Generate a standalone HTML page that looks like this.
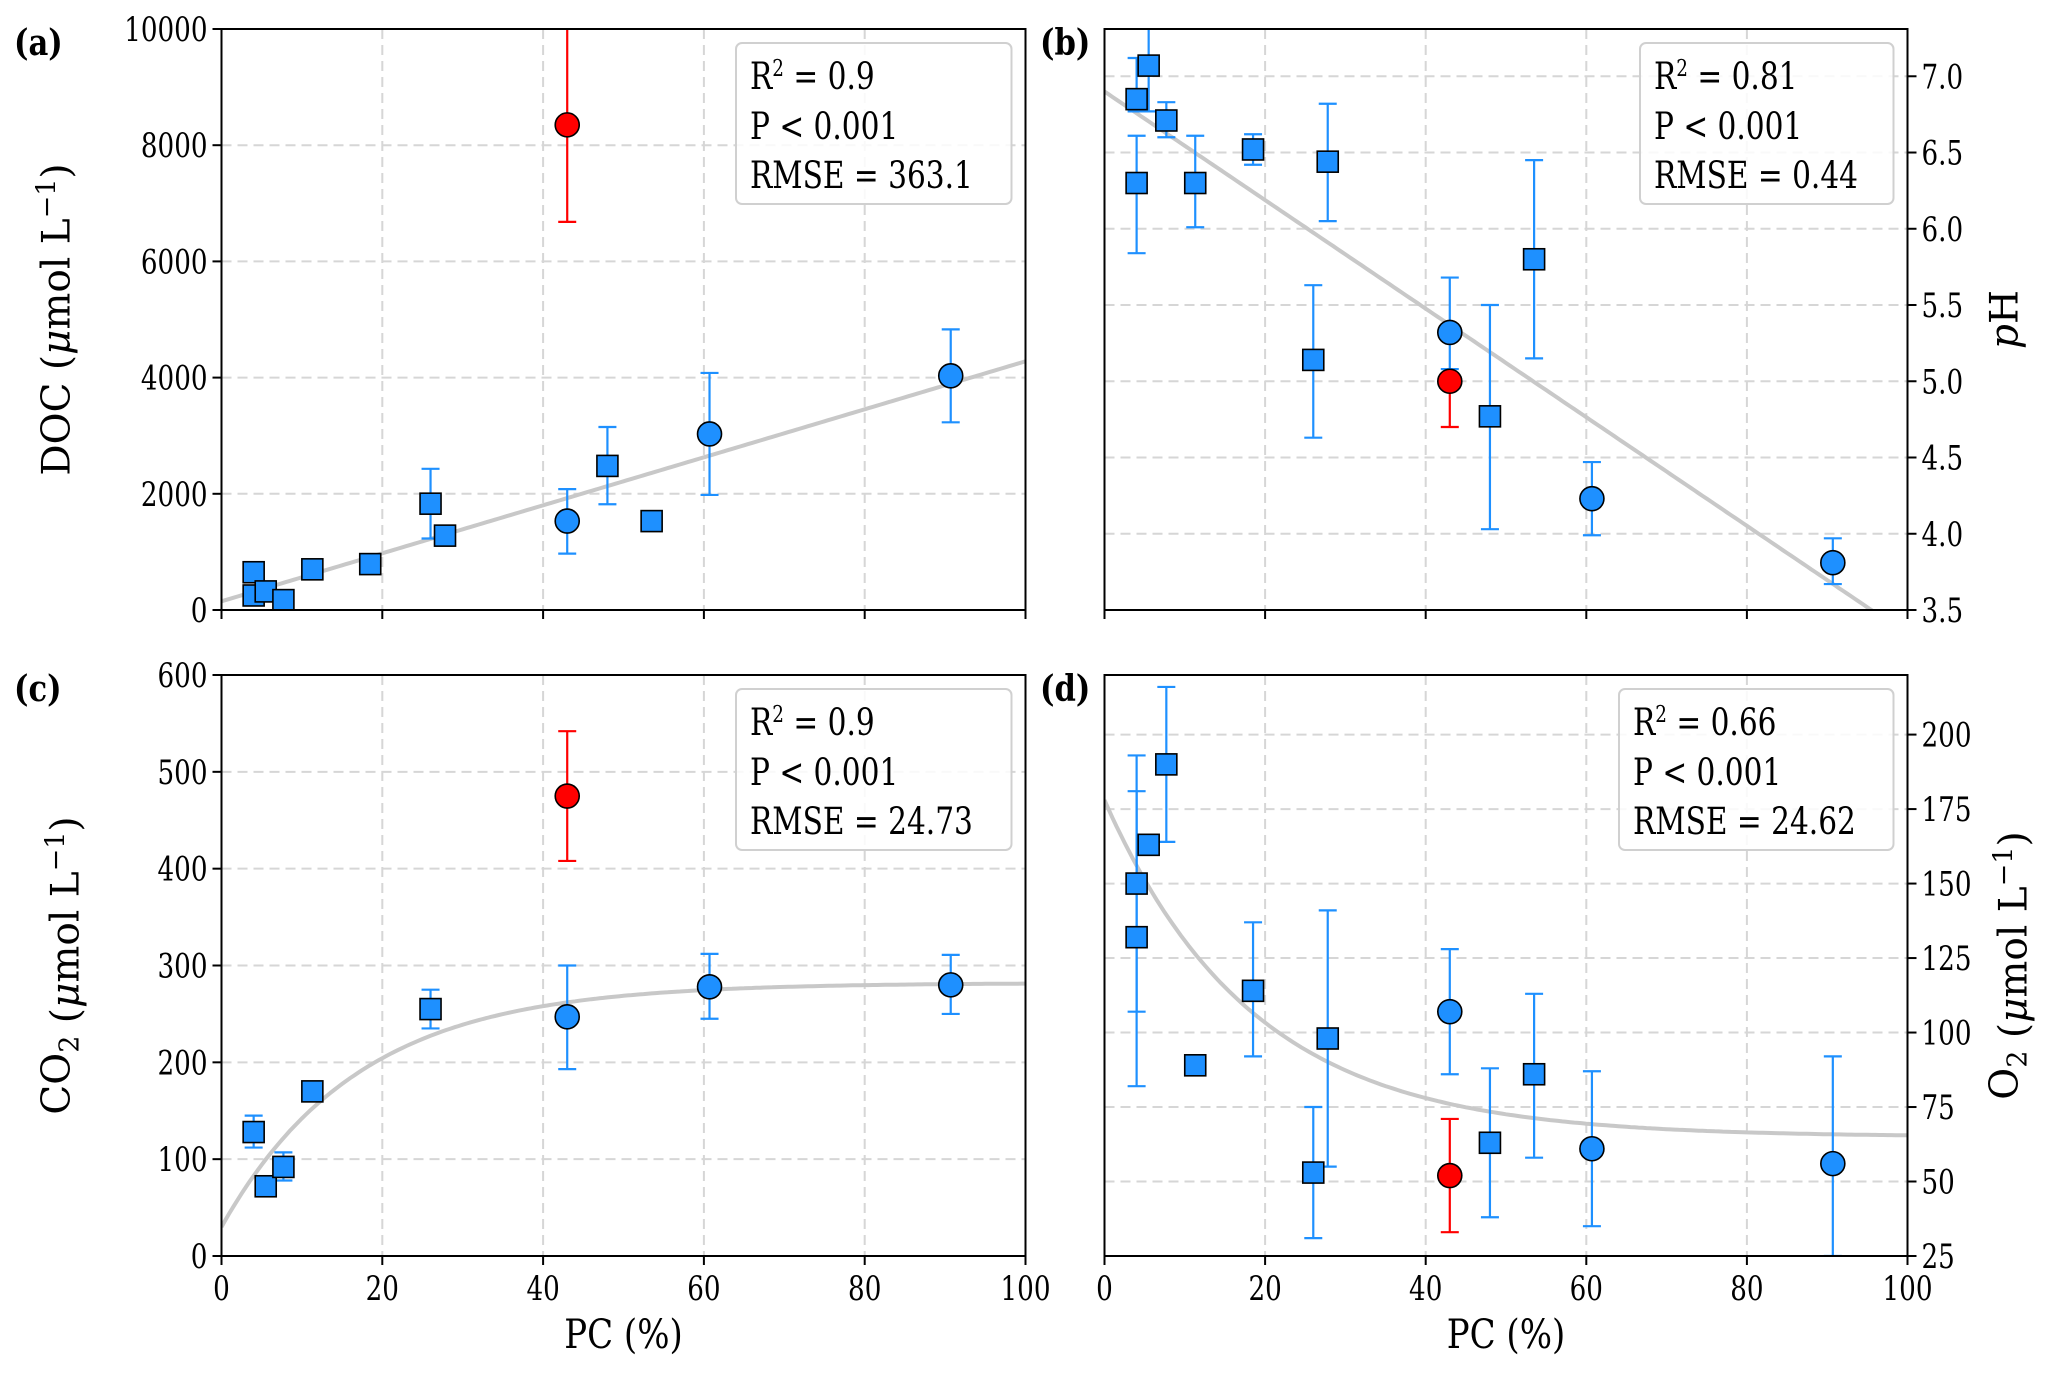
<!DOCTYPE html>
<html><head><meta charset="utf-8"><style>
html,body{margin:0;padding:0;background:#fff;}
svg{display:block;font-family:"DejaVu Serif","Liberation Serif",serif;}
.tick{font-size:34px;fill:#000;}
.lab{font-size:39px;fill:#000;}
.xl{font-size:40px;fill:#000;}
.leg{font-size:37px;fill:#000;}
.pl{font-size:36px;font-weight:bold;fill:#000;}
</style></head><body>
<svg id="chart" width="2067" height="1378" viewBox="0 0 2067 1378"></svg>
<script>
const pc = [4, 4, 5.5, 7.7, 11.3, 18.5, 26, 27.8, 43, 48, 53.5, 60.7, 90.7, 43];
const shapes = ['s','s','s','s','s','s','s','s','o','s','s','o','o','r'];
const docVal = [650, 250, 320, 170, 700, 790, 1830, 1280, 1530, 2480, 1530, 3030, 4030, 8350];
const docLo = [560, 120, 230, 90, 610, 700, 1230, 1150, 970, 1820, 1420, 1980, 3230, 6680];
const docHi = [740, 380, 410, 250, 800, 900, 2430, 1420, 2080, 3150, 1640, 4080, 4830, 10500];
const phVal = [6.85, 6.3, 7.07, 6.71, 6.3, 6.52, 5.14, 6.44, 5.32, 4.77, 5.8, 4.23, 3.81, 5.0];
const phLo = [6.77, 5.84, 6.77, 6.6, 6.01, 6.42, 4.63, 6.05, 5.08, 4.03, 5.15, 3.99, 3.67, 4.7];
const phHi = [7.12, 6.61, 7.4, 6.83, 6.61, 6.62, 5.63, 6.82, 5.68, 5.5, 6.45, 4.47, 3.97, 5.0];
const co2Val = [128, null, 72, 92, 170, null, 255, null, 247, null, null, 278, 280, 475];
const co2Lo = [112, null, 62, 78, 165, null, 235, null, 193, null, null, 245, 250, 408];
const co2Hi = [145, null, 82, 107, 175, null, 275, null, 300, null, null, 312, 311, 542];
const o2Val = [132, 150, 163, 190, 89, 114, 53, 98, 107, 63, 86, 61, 56, 52];
const o2Lo = [82, 107, 160, 164, 86, 92, 31, 55, 86, 38, 58, 35, 25, 33];
const o2Hi = [181, 193, 166, 216, 92, 137, 75, 141, 128, 88, 113, 87, 92, 71];
const xTicks = [0, 20, 40, 60, 80, 100];
const docTicks = [0, 2000, 4000, 6000, 8000, 10000];
const phTicks = [3.5, 4.0, 4.5, 5.0, 5.5, 6.0, 6.5, 7.0];
const co2Ticks = [0, 100, 200, 300, 400, 500, 600];
const o2Ticks = [25, 50, 75, 100, 125, 150, 175, 200];
const legA = ['0.9', '< 0.001', '363.1'];
const legB = ['0.81', '< 0.001', '0.44'];
const legC = ['0.9', '< 0.001', '24.73'];
const legD = ['0.66', '< 0.001', '24.62'];

const NS = 'http://www.w3.org/2000/svg';
const svg = document.getElementById('chart');
function mk(tag, attrs, parent, text) {
  const e = document.createElementNS(NS, tag);
  for (const k in attrs) e.setAttribute(k, attrs[k]);
  if (text !== undefined) e.textContent = text;
  (parent || svg).appendChild(e);
  return e;
}
const BLUE = '#1e90ff';

function panel(cfg) {
  const g = mk('g', {});
  
  
  const {x0, x1, y0, y1, ymin, ymax} = cfg;
  const sx = v => x0 + (v - 0) / 100 * (x1 - x0);
  const sy = v => y1 - (v - ymin) / (ymax - ymin) * (y1 - y0);
  const clip = 'clip-' + cfg.name;
  const cp = mk('clipPath', {id: clip}, g);
  mk('rect', {x: x0, y: y0, width: x1 - x0, height: y1 - y0}, cp);
  xTicks.forEach(t => {
    const l = mk('line', {x1: sx(t), x2: sx(t), y1: y0, y2: y1, stroke: '#d6d6d6', 'stroke-width': 2, 'stroke-dasharray': '10,6'}, g);
    
    
  });
  cfg.yTicks.forEach(t => {
    const l = mk('line', {x1: x0, x2: x1, y1: sy(t), y2: sy(t), stroke: '#d6d6d6', 'stroke-width': 2, 'stroke-dasharray': '10,6'}, g);
    
    
  });
  const pts = [];
  for (let i = 0; i <= 200; i++) { const x = i / 2; pts.push(sx(x).toFixed(1) + ',' + sy(cfg.fit(x)).toFixed(1)); }
  const fl = mk('polyline', {points: pts.join(' '), fill: 'none', stroke: '#c8c8c8', 'stroke-width': 4, 'clip-path': 'url(#' + clip + ')'}, g);
  
  
  const dg = mk('g', {'clip-path': 'url(#' + clip + ')'}, g);
  cfg.val.forEach((v, i) => {
    if (v === null) return;
    const col = shapes[i] === 'r' ? '#ff0000' : BLUE;
    const x = sx(pc[i]);
    const eb = mk('g', {stroke: col, 'stroke-width': 2.2}, dg);
    
    
    mk('line', {x1: x, x2: x, y1: sy(cfg.lo[i]), y2: sy(cfg.hi[i])}, eb);
    mk('line', {x1: x - 9, x2: x + 9, y1: sy(cfg.lo[i]), y2: sy(cfg.lo[i])}, eb);
    mk('line', {x1: x - 9, x2: x + 9, y1: sy(cfg.hi[i]), y2: sy(cfg.hi[i])}, eb);
  });
  cfg.val.forEach((v, i) => {
    if (v === null) return;
    const x = sx(pc[i]), y = sy(v);
    let m;
    if (shapes[i] === 's') {
      m = mk('rect', {x: x - 10.5, y: y - 10.5, width: 21, height: 21, fill: BLUE, stroke: '#000', 'stroke-width': 1.6}, dg);
    } else {
      m = mk('circle', {cx: x, cy: y, r: 12, fill: shapes[i] === 'r' ? '#ff0000' : BLUE, stroke: '#000', 'stroke-width': 1.6}, dg);
    }
    
    
  });
  const fr = mk('rect', {x: x0, y: y0, width: x1 - x0, height: y1 - y0, fill: 'none', stroke: '#000', 'stroke-width': 2}, g);
  
  
  xTicks.forEach(t => {
    mk('line', {x1: sx(t), x2: sx(t), y1: y1, y2: y1 + 9, stroke: '#000', 'stroke-width': 2}, g);
    if (cfg.xLabels) {
      const tl = mk('text', {x: sx(t), y: y1 + 44, 'text-anchor': 'middle', class: 'tick'}, g, String(t));
      
      
    }
  });
  cfg.yTicks.forEach(t => {
    const right = cfg.right;
    const xa = right ? x1 : x0;
    mk('line', {x1: xa, x2: right ? xa + 9 : xa - 9, y1: sy(t), y2: sy(t), stroke: '#000', 'stroke-width': 2}, g);
    const tl = mk('text', {x: right ? xa + 14 : xa - 14, y: sy(t) + 12, 'text-anchor': right ? 'start' : 'end', class: 'tick'}, g, cfg.fmt(t));
    
    
  });
  const lg = mk('g', {}, g);
  
  
  mk('rect', {x: cfg.lx, y: y0 + 14, width: x1 - 14 - cfg.lx, height: 161, rx: 6, fill: '#fff', 'fill-opacity': 0.85, stroke: '#d0d0d0', 'stroke-width': 2}, lg);
  const t1 = mk('text', {x: cfg.lx + 14, y: y0 + 60, class: 'leg'}, lg);
  t1.innerHTML = 'R<tspan dy="-13" font-size="23">2</tspan><tspan dy="13"> = ' + cfg.leg[0] + '</tspan>';
  mk('text', {x: cfg.lx + 14, y: y0 + 110, class: 'leg'}, lg, 'P ' + cfg.leg[1]);
  mk('text', {x: cfg.lx + 14, y: y0 + 159, class: 'leg'}, lg, 'RMSE = ' + cfg.leg[2]);
  const pl = mk('text', {x: cfg.plx, y: y0 + 26, class: 'pl'}, g, cfg.pl);
  
  
  if (cfg.xLabels) {
    const xl = mk('text', {x: (x0 + x1) / 2, y: y1 + 92, 'text-anchor': 'middle', class: 'xl'}, g, 'PC (%)');
    
    
  }
  const yx = cfg.right ? x1 + 110 : x0 - 152;
  const yc = (y0 + y1) / 2;
  const yl = mk('text', {x: yx, y: yc, 'text-anchor': 'middle', class: 'lab', transform: 'rotate(-90 ' + yx + ' ' + yc + ')'}, g);
  yl.innerHTML = cfg.ylab;
  
  
}

const mu = '<tspan font-style="italic">μ</tspan>';
const unit = ' (' + mu + 'mol L<tspan dy="-14" font-size="27">−1</tspan><tspan dy="14">)</tspan>';
panel({name: 'panel-a-doc', x0: 221.5, x1: 1025.5, y0: 29, y1: 610, ymin: 0, ymax: 10000,
  val: docVal, lo: docLo, hi: docHi, yTicks: docTicks, fmt: t => String(t),
  fit: x => 150 + 41.3 * x, leg: legA, lx: 736, plx: 14, pl: '(a)', xLabels: false, right: false,
  ylab: 'DOC' + unit});
panel({name: 'panel-b-ph', x0: 1104.5, x1: 1907.5, y0: 29, y1: 610, ymin: 3.5, ymax: 7.31,
  val: phVal, lo: phLo, hi: phHi, yTicks: phTicks, fmt: t => t.toFixed(1),
  fit: x => 6.9 - 0.0356 * x, leg: legB, lx: 1640, plx: 1040, pl: '(b)', xLabels: false, right: true,
  ylab: '<tspan font-style="italic">p</tspan>H'});
panel({name: 'panel-c-co2', x0: 221.5, x1: 1025.5, y0: 675, y1: 1256, ymin: 0, ymax: 600,
  val: co2Val, lo: co2Lo, hi: co2Hi, yTicks: co2Ticks, fmt: t => String(t),
  fit: x => 282 - 252 * Math.exp(-x / 17), leg: legC, lx: 736, plx: 14, pl: '(c)', xLabels: true, right: false,
  ylab: 'CO<tspan dy="9" font-size="27">2</tspan><tspan dy="-9"></tspan>' + unit});
panel({name: 'panel-d-o2', x0: 1104.5, x1: 1907.5, y0: 675, y1: 1256, ymin: 25, ymax: 220,
  val: o2Val, lo: o2Lo, hi: o2Hi, yTicks: o2Ticks, fmt: t => String(t),
  fit: x => 65 + 113 * Math.exp(-x / 18.5), leg: legD, lx: 1619, plx: 1040, pl: '(d)', xLabels: true, right: true,
  ylab: 'O<tspan dy="9" font-size="27">2</tspan><tspan dy="-9"></tspan>' + unit});

// condense text to mimic narrow font
function condense(sel, f) {
  svg.querySelectorAll(sel).forEach(t => {
    const w = t.getComputedTextLength();
    if (w > 0) { t.setAttribute('textLength', (w * f).toFixed(1)); t.setAttribute('lengthAdjust', 'spacingAndGlyphs'); }
  });
}
condense('text.tick', 0.77);
condense('text.leg', 0.8);
condense('text.xl', 0.85);
condense('text.pl', 0.85);
</script>
</body></html>
